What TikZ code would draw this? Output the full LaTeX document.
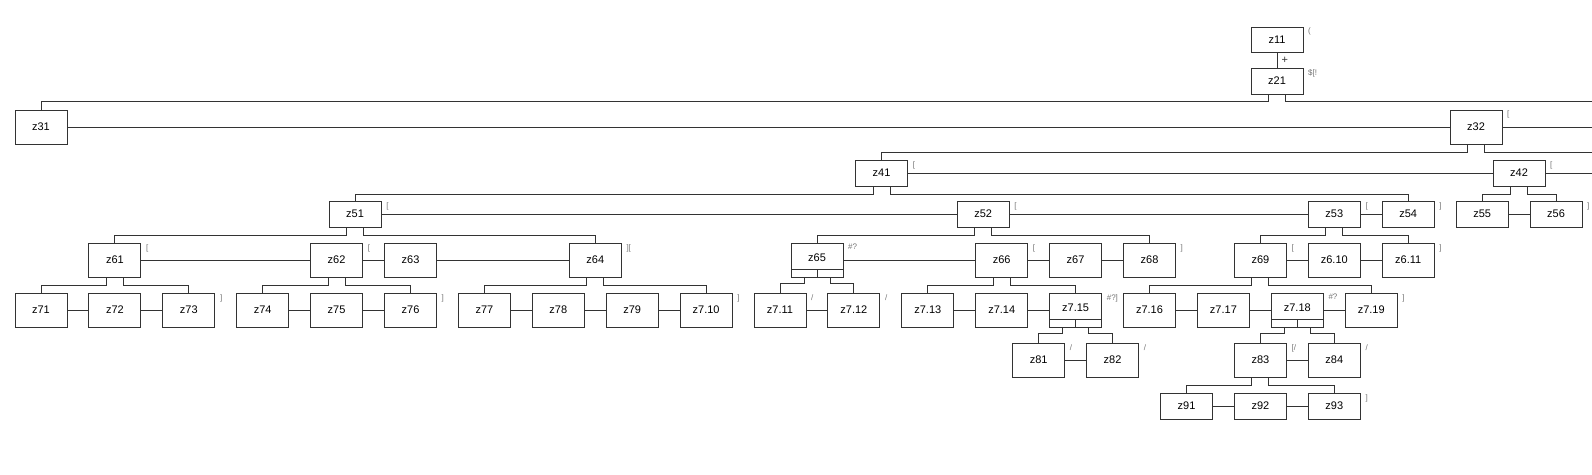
\documentclass[tikz,border=0pt]{standalone}
\usepackage{fontspec}
\setmainfont{Liberation Sans}
\begin{document}
\begin{tikzpicture}[x=1pt,y=-1pt,
  box/.style={draw=black!80, line width=1pt, minimum width=52pt, minimum height=34pt, inner sep=0pt, font=\fontsize{11}{13}\selectfont},
  low/.style={box, minimum height=26pt},
  splitbox/.style={box, text height=8pt, text depth=6pt,
    path picture={\draw[black!80, line width=1pt]
      ([yshift=8pt]path picture bounding box.south west) -- ([yshift=8pt]path picture bounding box.south east)
      ([yshift=8pt]path picture bounding box.south) -- (path picture bounding box.south);}},
  note/.style={label={[notetext]north east:{#1}}},
  notetext/.style={anchor=north west, xshift=3pt, inner sep=1.5pt, text=black!55, font=\fontsize{8}{9}\selectfont},
  link/.style={black!80, line width=1pt}]
\useasboundingbox (0,0) rectangle (1592,474);

% levels 1 to 4
\node[low, minimum height=25pt, note={(}] (z11) at (1277,39.5) {z11};
\node[low, note={\$[!}] (z21) at (1277,81) {z21};
\node[box] (z31) at (41,127) {z31};
\node[box, note={[}] (z32) at (1476,127) {z32};
\node[low, note={[}] (z41) at (881.6,173) {z41};
\node[low, note={[}] (z42) at (1519,173) {z42};

% level 5
\node[low, note={[}] (z51) at (355.1,214) {z51};
\node[low, note={[}] (z52) at (983.2,214) {z52};
\node[low, note={[}] (z53) at (1334.3,214) {z53};
\node[low, note={]}] (z54) at (1408.2,214) {z54};
\node[low] (z55) at (1482.1,214) {z55};
\node[low, note={]}] (z56) at (1556,214) {z56};

% level 6
\node[box, note={[}] (z61) at (114.9,260) {z61};
\node[box, note={[}] (z62) at (336.6,260) {z62};
\node[box] (z63) at (410.5,260) {z63};
\node[box, note={][}] (z64) at (595.3,260) {z64};
\node[splitbox, note={\#?}] (z65) at (817,260) {z65};
\node[box, note={[}] (z66) at (1001.7,260) {z66};
\node[box] (z67) at (1075.6,260) {z67};
\node[box, note={]}] (z68) at (1149.5,260) {z68};
\node[box, note={[}] (z69) at (1260.4,260) {z69};
\node[box] (z610) at (1334.3,260) {z6.10};
\node[box, note={]}] (z611) at (1408.2,260) {z6.11};

% level 7
\node[box] (z71) at (41,310) {z71};
\node[box] (z72) at (114.9,310) {z72};
\node[box, note={]}] (z73) at (188.8,310) {z73};
\node[box] (z74) at (262.7,310) {z74};
\node[box] (z75) at (336.6,310) {z75};
\node[box, note={]}] (z76) at (410.5,310) {z76};
\node[box] (z77) at (484.4,310) {z77};
\node[box] (z78) at (558.3,310) {z78};
\node[box] (z79) at (632.2,310) {z79};
\node[box, note={]}] (z710) at (706.1,310) {z7.10};
\node[box, note={/}] (z711) at (780,310) {z7.11};
\node[box, note={/}] (z712) at (853.9,310) {z7.12};
\node[box] (z713) at (927.8,310) {z7.13};
\node[box] (z714) at (1001.7,310) {z7.14};
\node[splitbox, note={\#?]}] (z715) at (1075.6,310) {z7.15};
\node[box] (z716) at (1149.5,310) {z7.16};
\node[box] (z717) at (1223.4,310) {z7.17};
\node[splitbox, note={\#?}] (z718) at (1297.3,310) {z7.18};
\node[box, note={]}] (z719) at (1371.2,310) {z7.19};

% levels 8 and 9
\node[box, note={/}] (z81) at (1038.7,360) {z81};
\node[box, note={/}] (z82) at (1112.6,360) {z82};
\node[box, note={[/}] (z83) at (1260.4,360) {z83};
\node[box, note={/}] (z84) at (1334.3,360) {z84};
\node[low] (z91) at (1186.5,406) {z91};
\node[low] (z92) at (1260.4,406) {z92};
\node[low, note={]}] (z93) at (1334.3,406) {z93};

% free ends at the right border
\coordinate (edge2) at (1592,101);
\coordinate (edge3) at (1592,127);
\coordinate (edge3b) at (1592,152);
\coordinate (edge4) at (1592,173);

% parent to first and last child
\path[draw,link] (z11.south) -- node[right, inner sep=4pt, font=\fontsize{11}{13}\selectfont] {+} (z21.north);
\path[draw,link] ([xshift=-8.5pt]z21.south) -- ++(0,-7pt) -| (z31.north);
\path[draw,link] ([xshift=8.5pt]z21.south) |- (edge2);
\path[draw,link] ([xshift=-8.5pt]z32.south) -- ++(0,-8pt) -| (z41.north);
\path[draw,link] ([xshift=8.5pt]z32.south) |- (edge3b);
\path[draw,link] ([xshift=-8.5pt]z41.south) -- ++(0,-7.5pt) -| (z51.north);
\path[draw,link] ([xshift=8.5pt]z41.south) -- ++(0,-7.5pt) -| (z54.north);
\path[draw,link] ([xshift=-8.5pt]z42.south) -- ++(0,-7.5pt) -| (z55.north);
\path[draw,link] ([xshift=8.5pt]z42.south) -- ++(0,-7.5pt) -| (z56.north);
\path[draw,link] ([xshift=-8.5pt]z51.south) -- ++(0,-7.5pt) -| (z61.north);
\path[draw,link] ([xshift=8.5pt]z51.south) -- ++(0,-7.5pt) -| (z64.north);
\path[draw,link] ([xshift=-8.5pt]z52.south) -- ++(0,-7.5pt) -| (z65.north);
\path[draw,link] ([xshift=8.5pt]z52.south) -- ++(0,-7.5pt) -| (z68.north);
\path[draw,link] ([xshift=-8.5pt]z53.south) -- ++(0,-7.5pt) -| (z69.north);
\path[draw,link] ([xshift=8.5pt]z53.south) -- ++(0,-7.5pt) -| (z611.north);
\path[draw,link] ([xshift=-8.5pt]z61.south) -- ++(0,-7.5pt) -| (z71.north);
\path[draw,link] ([xshift=8.5pt]z61.south) -- ++(0,-7.5pt) -| (z73.north);
\path[draw,link] ([xshift=-8.5pt]z62.south) -- ++(0,-7.5pt) -| (z74.north);
\path[draw,link] ([xshift=8.5pt]z62.south) -- ++(0,-7.5pt) -| (z76.north);
\path[draw,link] ([xshift=-8.5pt]z64.south) -- ++(0,-7.5pt) -| (z77.north);
\path[draw,link] ([xshift=8.5pt]z64.south) -- ++(0,-7.5pt) -| (z710.north);
\path[draw,link] ([xshift=-13pt]z65.south) -- ++(0,-5.5pt) -| (z711.north);
\path[draw,link] ([xshift=13pt]z65.south) -- ++(0,-5.5pt) -| (z712.north);
\path[draw,link] ([xshift=-8.5pt]z66.south) -- ++(0,-7.5pt) -| (z713.north);
\path[draw,link] ([xshift=8.5pt]z66.south) -- ++(0,-7.5pt) -| (z715.north);
\path[draw,link] ([xshift=-8.5pt]z69.south) -- ++(0,-7.5pt) -| (z716.north);
\path[draw,link] ([xshift=8.5pt]z69.south) -- ++(0,-7.5pt) -| (z719.north);
\path[draw,link] ([xshift=-13pt]z715.south) -- ++(0,-5.5pt) -| (z81.north);
\path[draw,link] ([xshift=13pt]z715.south) -- ++(0,-5.5pt) -| (z82.north);
\path[draw,link] ([xshift=-13pt]z718.south) -- ++(0,-5.5pt) -| (z83.north);
\path[draw,link] ([xshift=13pt]z718.south) -- ++(0,-5.5pt) -| (z84.north);
\path[draw,link] ([xshift=-8.5pt]z83.south) -- ++(0,-7.5pt) -| (z91.north);
\path[draw,link] ([xshift=8.5pt]z83.south) -- ++(0,-7.5pt) -| (z93.north);

% siblings
\path[draw,link] (z31.east) -- (z32.west);
\path[draw,link] (z32.east) -- (edge3);
\path[draw,link] (z41.east) -- (z42.west);
\path[draw,link] (z42.east) -- (edge4);
\path[draw,link] (z51.east) -- (z52.west);
\path[draw,link] (z52.east) -- (z53.west);
\path[draw,link] (z53.east) -- (z54.west);
\path[draw,link] (z55.east) -- (z56.west);
\path[draw,link] (z61.east) -- (z62.west);
\path[draw,link] (z62.east) -- (z63.west);
\path[draw,link] (z63.east) -- (z64.west);
\path[draw,link] (z65.east) -- (z66.west);
\path[draw,link] (z66.east) -- (z67.west);
\path[draw,link] (z67.east) -- (z68.west);
\path[draw,link] (z69.east) -- (z610.west);
\path[draw,link] (z610.east) -- (z611.west);
\path[draw,link] (z71.east) -- (z72.west);
\path[draw,link] (z72.east) -- (z73.west);
\path[draw,link] (z74.east) -- (z75.west);
\path[draw,link] (z75.east) -- (z76.west);
\path[draw,link] (z77.east) -- (z78.west);
\path[draw,link] (z78.east) -- (z79.west);
\path[draw,link] (z79.east) -- (z710.west);
\path[draw,link] (z711.east) -- (z712.west);
\path[draw,link] (z713.east) -- (z714.west);
\path[draw,link] (z714.east) -- (z715.west);
\path[draw,link] (z716.east) -- (z717.west);
\path[draw,link] (z717.east) -- (z718.west);
\path[draw,link] (z718.east) -- (z719.west);
\path[draw,link] (z81.east) -- (z82.west);
\path[draw,link] (z83.east) -- (z84.west);
\path[draw,link] (z91.east) -- (z92.west);
\path[draw,link] (z92.east) -- (z93.west);
\end{tikzpicture}
\end{document}
